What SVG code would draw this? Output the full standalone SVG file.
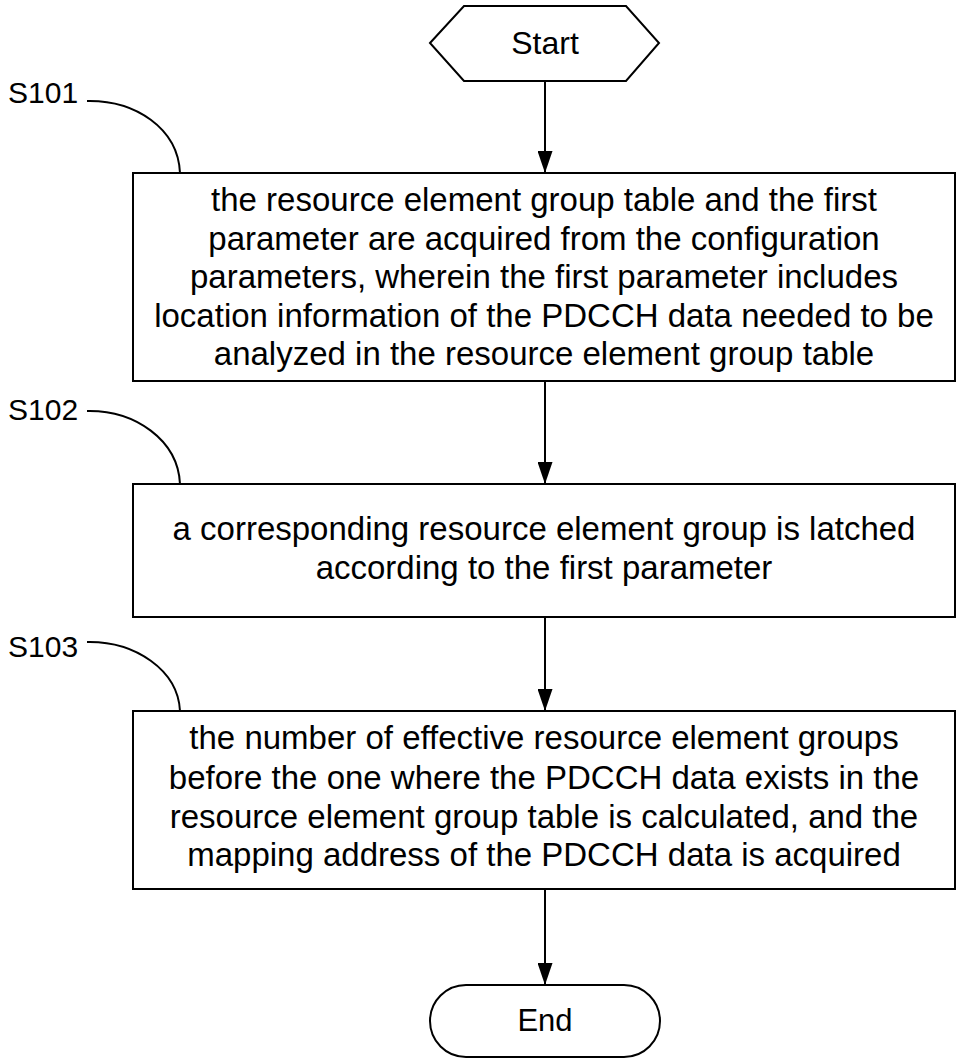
<svg xmlns="http://www.w3.org/2000/svg" width="960" height="1062" viewBox="0 0 960 1062">
<defs>
<style>
.shape{fill:#fff;stroke:#000;stroke-width:2}
.t{font-family:"Liberation Sans",Arial,sans-serif;font-size:33px;fill:#000;text-anchor:middle}
.lbl{font-family:"Liberation Sans",Arial,sans-serif;font-size:30px;fill:#000}
.conn{fill:none;stroke:#000;stroke-width:2}
.lead{fill:none;stroke:#000;stroke-width:2}
</style>
<marker id="arr" viewBox="0 0 22 15" refX="22" refY="7.5" markerWidth="22" markerHeight="15" orient="auto" markerUnits="userSpaceOnUse">
<path d="M0,0 L22,7.5 L0,15 Z" fill="#000"/>
</marker>
</defs>
<rect width="960" height="1062" fill="#fff"/>
<g id="connectors">
<line class="conn" x1="545" y1="81" x2="545" y2="173" marker-end="url(#arr)"/>
<line class="conn" x1="545" y1="381" x2="545" y2="484" marker-end="url(#arr)"/>
<line class="conn" x1="545" y1="617" x2="545" y2="711" marker-end="url(#arr)"/>
<line class="conn" x1="545" y1="889" x2="545" y2="985" marker-end="url(#arr)"/>
<path class="lead" d="M87,101 C135,100 178,128 180,173"/>
<path class="lead" d="M87,411 C135,410 178,440 180,484"/>
<path class="lead" d="M87,642 C135,641 178,670 180,711"/>
</g>
<g id="start">
<polygon class="shape" points="430,43 464,6 626,6 659,43 626,81 464,81"/>
<text class="t" x="545" y="54" style="font-size:32px">Start</text>
</g>
<g id="s101">
<text class="lbl" x="8" y="103">S101</text>
<rect class="shape" x="133" y="173" width="822" height="208"/>
<text class="t" x="544" y="211">the resource element group table and the first</text>
<text class="t" x="544" y="250">parameter are acquired from the configuration</text>
<text class="t" x="544" y="288">parameters, wherein the first parameter includes</text>
<text class="t" x="544" y="327">location information of the PDCCH data needed to be</text>
<text class="t" x="544" y="365">analyzed in the resource element group table</text>
</g>
<g id="s102">
<text class="lbl" x="8" y="420">S102</text>
<rect class="shape" x="133" y="484" width="822" height="133"/>
<text class="t" x="544" y="540">a corresponding resource element group is latched</text>
<text class="t" x="544" y="579">according to the first parameter</text>
</g>
<g id="s103">
<text class="lbl" x="8" y="657">S103</text>
<rect class="shape" x="133" y="711" width="822" height="178"/>
<text class="t" x="544" y="749">the number of effective resource element groups</text>
<text class="t" x="544" y="789">before the one where the PDCCH data exists in the</text>
<text class="t" x="544" y="828">resource element group table is calculated, and the</text>
<text class="t" x="544" y="866">mapping address of the PDCCH data is acquired</text>
</g>
<g id="end">
<rect class="shape" x="430" y="985" width="230" height="72" rx="36" ry="36"/>
<text class="t" x="545" y="1031" style="font-size:31px">End</text>
</g>
</svg>
